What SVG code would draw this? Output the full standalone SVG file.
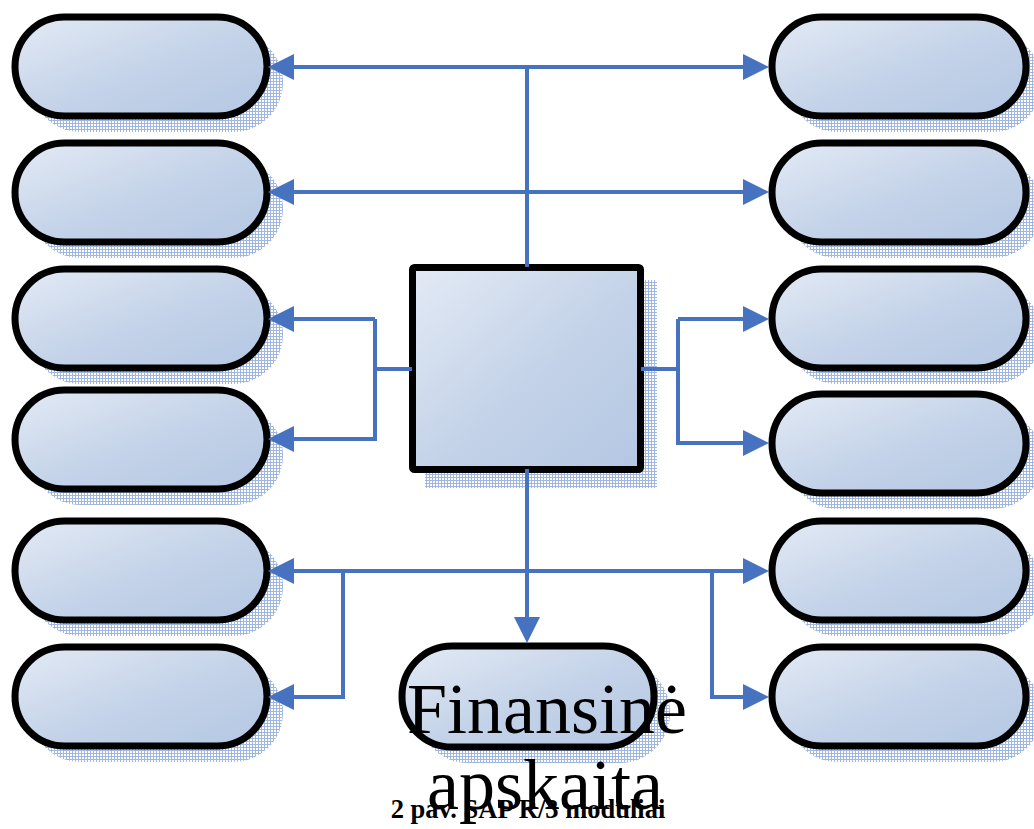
<svg xmlns="http://www.w3.org/2000/svg" width="1034" height="829" viewBox="0 0 1034 829">
  <style>
    .node { fill: url(#nodeFill); stroke: #000; stroke-width: 7; }
    .shadow { fill: url(#mesh); opacity: 0.75; }
    .link { fill: none; stroke: #4672c0; stroke-width: 4; }
    .arrow { marker-end: url(#head); }
    .label { font-family: "Liberation Serif", "Times New Roman", serif; fill: #000; }
  </style>
  <defs>
    <linearGradient id="nodeFill" x1="0" y1="0" x2="1" y2="1">
      <stop offset="0" stop-color="#e3eaf5"/>
      <stop offset="0.55" stop-color="#c3d2e8"/>
      <stop offset="1" stop-color="#b4c7e3"/>
    </linearGradient>
    <pattern id="mesh" width="3" height="3" patternUnits="userSpaceOnUse">
      <rect width="3" height="3" fill="#ffffff"/>
      <path d="M0,0.5 H3 M0.5,0 V3" stroke="#7f9fd6" stroke-width="1"/>
    </pattern>
    <marker id="head" markerUnits="userSpaceOnUse" markerWidth="26" markerHeight="26" refX="0" refY="13" orient="auto">
      <path d="M0,0 L26,13 L0,26 Z" fill="#4672c0"/>
    </marker>
  </defs>

  <!-- drop shadows -->
  <g id="shadows">
    <rect class="shadow" x="31" y="33" width="252" height="99" rx="49.5"/>
    <rect class="shadow" x="31" y="159" width="252" height="99" rx="49.5"/>
    <rect class="shadow" x="31" y="285" width="252" height="99" rx="49.5"/>
    <rect class="shadow" x="31" y="406" width="252" height="99" rx="49.5"/>
    <rect class="shadow" x="31" y="537" width="252" height="99" rx="49.5"/>
    <rect class="shadow" x="31" y="663" width="252" height="99" rx="49.5"/>
    <rect class="shadow" x="788" y="33" width="254" height="99" rx="49.5"/>
    <rect class="shadow" x="788" y="159" width="254" height="99" rx="49.5"/>
    <rect class="shadow" x="788" y="285" width="254" height="99" rx="49.5"/>
    <rect class="shadow" x="788" y="410" width="254" height="99" rx="49.5"/>
    <rect class="shadow" x="788" y="537" width="254" height="99" rx="49.5"/>
    <rect class="shadow" x="788" y="663" width="254" height="99" rx="49.5"/>
    <rect class="shadow" x="425" y="280" width="232" height="208"/>
    <rect class="shadow" x="418" y="662" width="252" height="101" rx="50"/>
  </g>

  <!-- left column -->
  <g id="left-1"><rect class="node" x="15" y="17" width="252" height="99" rx="49.5"/></g>
  <g id="left-2"><rect class="node" x="15" y="143" width="252" height="99" rx="49.5"/></g>
  <g id="left-3"><rect class="node" x="15" y="269" width="252" height="99" rx="49.5"/></g>
  <g id="left-4"><rect class="node" x="15" y="390" width="252" height="99" rx="49.5"/></g>
  <g id="left-5"><rect class="node" x="15" y="521" width="252" height="99" rx="49.5"/></g>
  <g id="left-6"><rect class="node" x="15" y="647" width="252" height="99" rx="49.5"/></g>

  <!-- right column -->
  <g id="right-1"><rect class="node" x="772" y="17" width="254" height="99" rx="49.5"/></g>
  <g id="right-2"><rect class="node" x="772" y="143" width="254" height="99" rx="49.5"/></g>
  <g id="right-3"><rect class="node" x="772" y="269" width="254" height="99" rx="49.5"/></g>
  <g id="right-4"><rect class="node" x="772" y="394" width="254" height="99" rx="49.5"/></g>
  <g id="right-5"><rect class="node" x="772" y="521" width="254" height="99" rx="49.5"/></g>
  <g id="right-6"><rect class="node" x="772" y="647" width="254" height="99" rx="49.5"/></g>

  <!-- central module -->
  <g id="core"><rect class="node" x="412.5" y="267.5" width="228" height="202" rx="2"/></g>

  <!-- bottom module -->
  <g id="finance"><rect class="node" x="402" y="646" width="252" height="101" rx="50"/></g>

  <!-- connectors -->
  <g id="connectors">
    <path class="link" d="M527,267 V67"/>
    <path class="link arrow" d="M527,67 H294"/>
    <path class="link arrow" d="M527,67 H743"/>
    <path class="link arrow" d="M527,192 H294"/>
    <path class="link arrow" d="M527,192 H743"/>

    <path class="link" d="M412,369 H375 V319"/>
    <path class="link arrow" d="M375,319 H294"/>
    <path class="link arrow" d="M412,369 H375 V439 H294"/>
    <path class="link" d="M641,369 H678 V319"/>
    <path class="link arrow" d="M678,319 H743"/>
    <path class="link arrow" d="M641,369 H678 V443 H743"/>

    <path class="link arrow" d="M527,469 V617"/>
    <path class="link arrow" d="M527,571 H294"/>
    <path class="link arrow" d="M527,571 H743"/>
    <path class="link arrow" d="M343,571 V697 H294"/>
    <path class="link arrow" d="M712,571 V697 H743"/>
  </g>

  <!-- texts -->
  <g id="caption">
    <text class="label" x="528" y="818" font-size="26.5" font-weight="bold" text-anchor="middle">2 pav. SAP R/3 moduliai</text>
  </g>
  <g id="finance-label">
    <text class="label" x="547" y="733" font-size="72" text-anchor="middle">Finansinė</text>
    <text class="label" x="545" y="809" font-size="72" text-anchor="middle">apskaita</text>
  </g>
</svg>
